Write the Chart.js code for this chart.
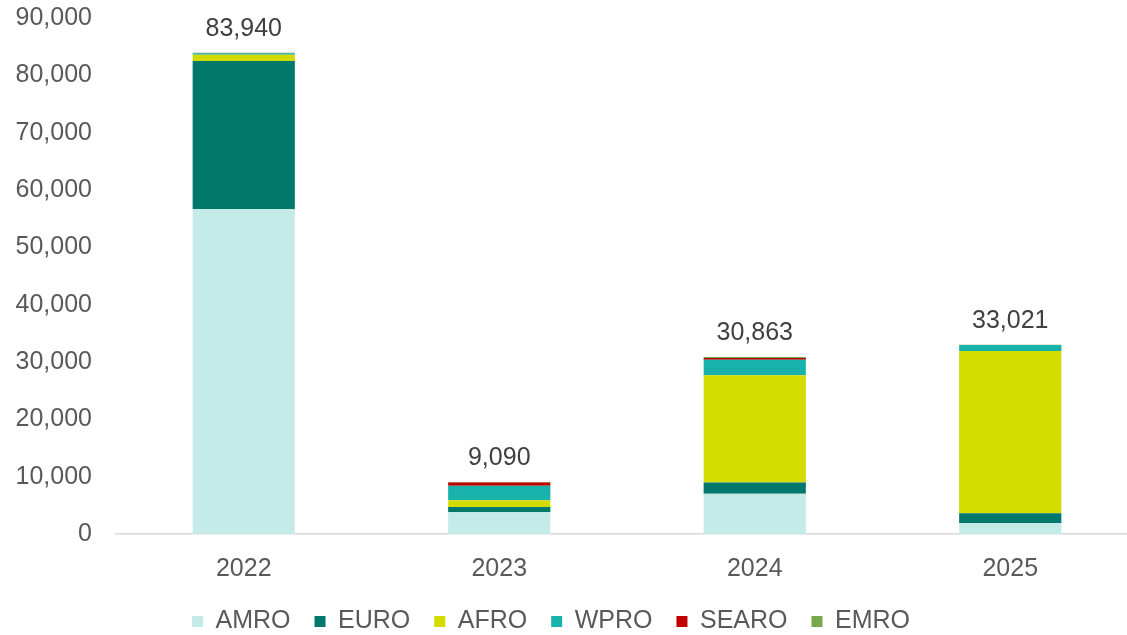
<!DOCTYPE html>
<html>
<head>
<meta charset="utf-8">
<script src="https://cdn.jsdelivr.net/npm/chart.js@4.4.1/dist/chart.umd.min.js"></script>
<style>
  html, body { margin: 0; padding: 0; overflow: hidden; background: #ffffff; }
  #wrap { position: relative; width: 1150px; height: 635px; }
</style>
</head>
<body>
<div id="wrap"><canvas id="c"></canvas></div>
<script>
// ---- data ----
const years = ['2022', '2023', '2024', '2025'];
const regionNames = ['AMRO', 'EURO', 'AFRO', 'WPRO', 'SEARO', 'EMRO'];
const amro  = [56700, 3800,  7000,  1900];
const euro  = [25800,  900,  2000,  1700];
const afro  = [ 1100, 1200, 18700, 28300];
const wpro  = [  250, 2500,  2700,  1050];
const searo = [   40,  600,   300,    30];
const emro  = [   50,   90,   163,    41];
const yMin = 0, yMax = 90000, yStep = 10000;

const seriesValues = [amro, euro, afro, wpro, searo, emro];
const seriesColors = ['#c5ebe8', '#00786c', '#d3db00', '#19b2ab', '#c00000', '#77a84c'];

const FONT = '"Liberation Sans", Arial, sans-serif';
const fmt = v => Number(v).toLocaleString('en-US');

const totalsPlugin = {
  id: 'totals',
  afterDatasetsDraw(chart) {
    const ctx = chart.ctx;
    const ys = chart.scales.y;
    const meta = chart.getDatasetMeta(0);
    ctx.save();
    ctx.font = '25px ' + FONT;
    ctx.fillStyle = '#404040';
    ctx.textAlign = 'center';
    ctx.textBaseline = 'middle';
    years.forEach((yr, i) => {
      const total = seriesValues.reduce((s, arr) => s + arr[i], 0);
      const x = meta.data[i].x;
      const top = ys.getPixelForValue(total);
      ctx.fillText(fmt(total), x, top - 24);
    });
    ctx.restore();
  }
};

new Chart(document.getElementById('c'), {
  type: 'bar',
  data: {
    labels: years,
    datasets: regionNames.map((name, k) => ({
      label: name,
      data: seriesValues[k],
      backgroundColor: seriesColors[k],
      borderWidth: 0,
      barPercentage: 0.4,
      categoryPercentage: 1.0
    }))
  },
  options: {
    responsive: true,
    maintainAspectRatio: false,
    animation: false,
    layout: { padding: { top: 18, right: 12, bottom: -9, left: -36 } },
    plugins: {
      legend: {
        position: 'bottom',
        labels: {
          boxWidth: 11,
          boxHeight: 11,
          padding: 24,
          color: '#595959',
          font: { family: FONT, size: 25 }
        }
      },
      tooltip: { enabled: false }
    },
    scales: {
      x: {
        stacked: true,
        grid: { display: false, drawTicks: false },
        border: { display: true, color: '#d9d9d9', width: 1.5 },
        ticks: { color: '#595959', padding: 20, font: { family: FONT, size: 25 } },
        afterFit(scale) { scale.height -= 19; }
      },
      y: {
        stacked: true,
        min: yMin,
        max: yMax,
        grid: { display: false, drawTicks: false },
        border: { display: false },
        ticks: {
          stepSize: yStep,
          color: '#595959',
          padding: 24,
          font: { family: FONT, size: 25 },
          callback: v => fmt(v)
        },
        afterFit(scale) { scale.width = 152; scale.paddingTop = 0; }
      }
    }
  },
  plugins: [totalsPlugin]
});
</script>
</body>
</html>
